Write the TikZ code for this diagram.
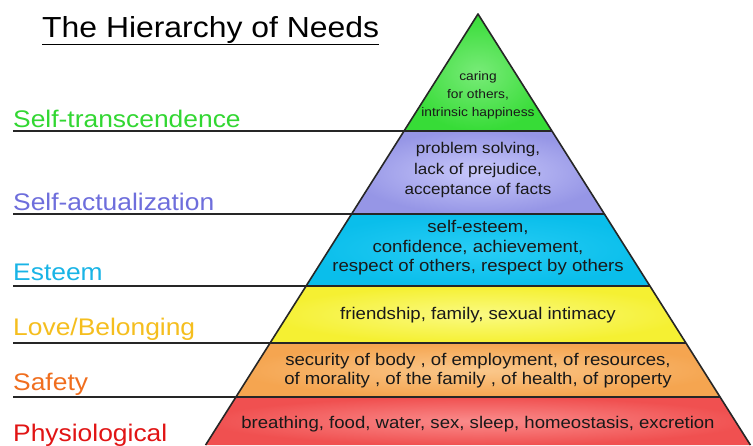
\documentclass[tikz,border=0pt]{standalone}
\usepackage{fontspec}
\setmainfont{Liberation Sans}[FakeStretch=1.1]
\begin{document}
\begin{tikzpicture}[x=1pt,y=-1pt,
  tier/.style={draw=black!85,line width=1.6pt,line join=round},
  inner/.style={align=center,font=\fontsize{16.9}{19.5}\selectfont,text=black!90,inner sep=0pt},
  lvl/.style={anchor=base west,font=\fontsize{24}{28}\selectfont,inner sep=0pt},
  rule/.style={draw=black!85,line width=1.6pt}]
\useasboundingbox (0,0) rectangle (753,445);
\fill[white] (0,0) rectangle (753,445);
% geometry: apex (478,14), slope 0.632
\coordinate (A) at (478,14);
\coordinate (L1) at (404,131); \coordinate (R1) at (552,131);
\coordinate (L2) at (351.6,214); \coordinate (R2) at (604.4,214);
\coordinate (L3) at (306,286); \coordinate (R3) at (650,286);
\coordinate (L4) at (270,343); \coordinate (R4) at (686,343);
\coordinate (L5) at (236,397); \coordinate (R5) at (720,397);
\coordinate (L6) at (205.6,445); \coordinate (R6) at (750.4,445);
% tiers
\shade[inner color={rgb,255:red,120;green,235;blue,120}, outer color={rgb,255:red,55;green,220;blue,55}] (A) -- (R1) -- (L1) -- cycle;
\shade[inner color={rgb,255:red,200;green,200;blue,250}, outer color={rgb,255:red,150;green,150;blue,230}] (L1) -- (R1) -- (R2) -- (L2) -- cycle;
\shade[inner color={rgb,255:red,40;green,205;blue,245}, outer color={rgb,255:red,10;green,190;blue,235}] (L2) -- (R2) -- (R3) -- (L3) -- cycle;
\shade[inner color={rgb,255:red,250;green,250;blue,130}, outer color={rgb,255:red,245;green,240;blue,50}] (L3) -- (R3) -- (R4) -- (L4) -- cycle;
\shade[inner color={rgb,255:red,250;green,200;blue,140}, outer color={rgb,255:red,245;green,165;blue,80}] (L4) -- (R4) -- (R5) -- (L5) -- cycle;
\shade[inner color={rgb,255:red,250;green,140;blue,140}, outer color={rgb,255:red,240;green,80;blue,80}] (L5) -- (R5) -- (R6) -- (L6) -- cycle;
\draw[tier] (L6) -- (A) -- (R6);
\draw[tier] (L1) -- (R1) (L2) -- (R2) (L3) -- (R3) (L4) -- (R4) (L5) -- (R5);
% left rules
\coordinate (S1) at (13,131); \coordinate (S2) at (13,214); \coordinate (S3) at (13,286);
\coordinate (S4) at (13,343); \coordinate (S5) at (13,397);
\draw[rule] (S1) -- (L1) (S2) -- (L2) (S3) -- (L3) (S4) -- (L4) (S5) -- (L5);
% title
\node[anchor=base west,font=\fontsize{29}{32}\selectfont,inner sep=0pt] (title) at (42,37) {The Hierarchy of Needs};
\draw[line width=1.8pt] ([yshift=-7.5pt]title.base west) -- ([yshift=-7.5pt]title.base east);
% level labels
\node[lvl,text={rgb,255:red,50;green,215;blue,50}] (t1) at (13,127) {Self-transcendence};
\node[lvl,text={rgb,255:red,110;green,110;blue,220}] (t2) at (13,210) {Self-actualization};
\node[lvl,text={rgb,255:red,25;green,180;blue,230}] (t3) at (13,280) {Esteem};
\node[lvl,text={rgb,255:red,245;green,190;blue,30}] (t4) at (13,335) {Love/Belonging};
\node[lvl,text={rgb,255:red,240;green,110;blue,30}] (t5) at (13,390) {Safety};
\node[lvl,text={rgb,255:red,225;green,20;blue,20}] (t6) at (13,441) {Physiological};
% tier texts
\node[inner,font=\fontsize{12.5}{18}\selectfont] (c1) at (478,95) {caring\\for others,\\intrinsic happiness};
\node[inner,font=\fontsize{15.5}{20.5}\selectfont] (c2) at (478,170) {problem solving,\\lack of prejudice,\\acceptance of facts};
\node[inner] (c3) at (478,248) {self-esteem,\\confidence, achievement,\\respect of others, respect by others};
\node[inner] (c4) at (478,315) {friendship, family, sexual intimacy};
\node[inner] (c5) at (478,370.5) {security of body , of employment, of resources,\\of morality , of the family , of health, of property};
\node[inner] (c6) at (478,424) {breathing, food, water, sex, sleep, homeostasis, excretion};
\end{tikzpicture}
\end{document}
